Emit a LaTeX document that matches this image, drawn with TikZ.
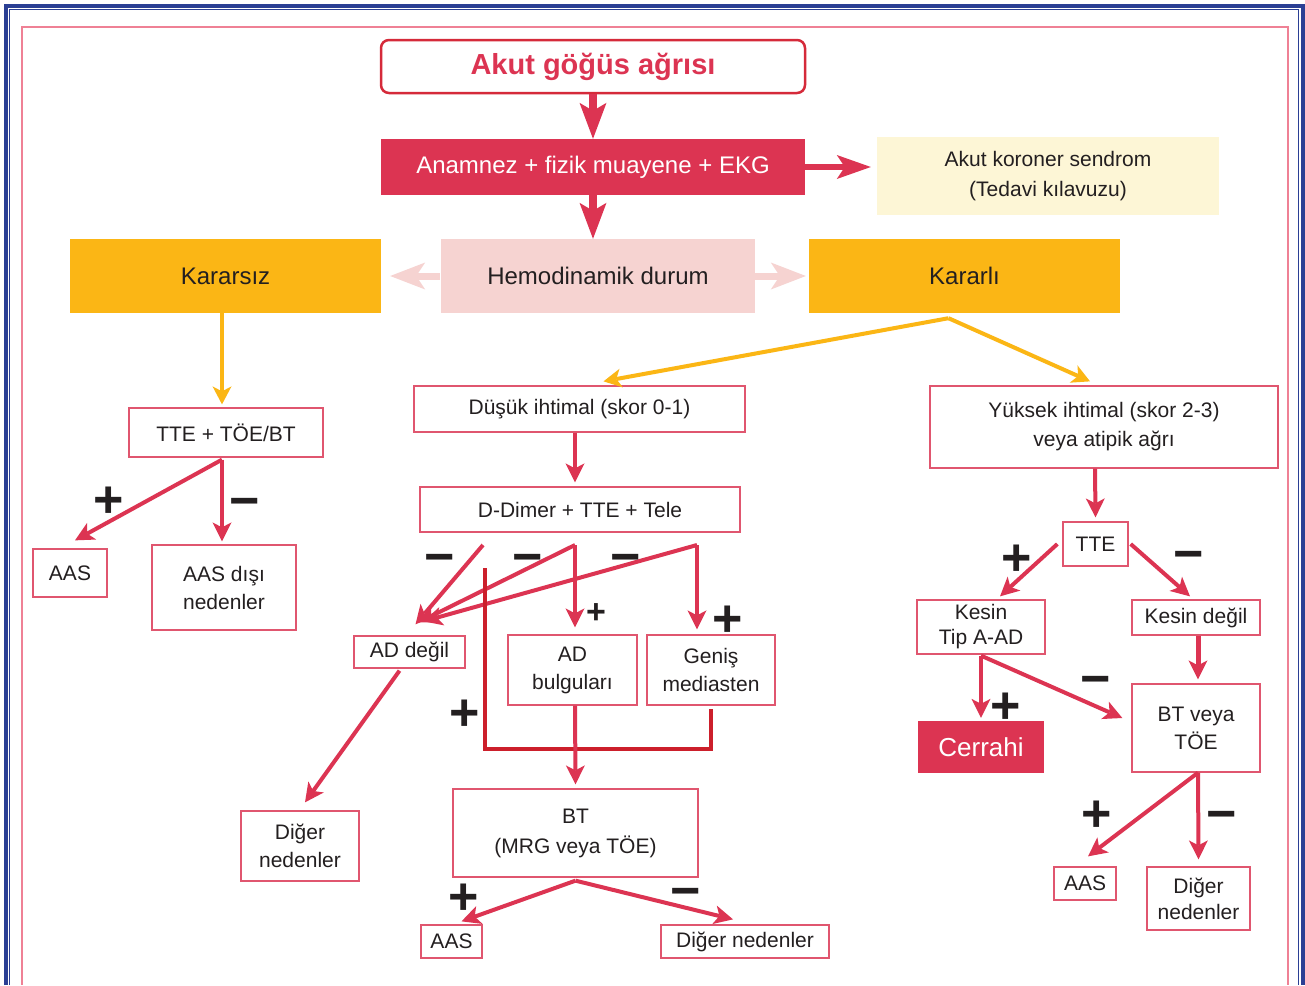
\documentclass[tikz,border=0pt]{standalone}
\usepackage{fontspec}
\setmainfont{Liberation Sans}
\usetikzlibrary{arrows.meta}
\usetikzlibrary{positioning}
\definecolor{crim}{HTML}{DC3452}
\definecolor{titlered}{HTML}{D52A3A}
\definecolor{edgepink}{HTML}{E0566F}
\definecolor{amber}{HTML}{FBB615}
\definecolor{blush}{HTML}{F6D3D1}
\definecolor{cream}{HTML}{FDF6D6}
\definecolor{ink}{HTML}{231F20}
\definecolor{navy}{HTML}{2B3F94}
\definecolor{framepink}{HTML}{EF8195}
\definecolor{maroon}{HTML}{CC1F2B}

\begin{document}
\begin{tikzpicture}[x=1pt, y=-1pt,
            box/.style = {draw=edgepink, line width=1.3pt, fill=white, align=center,
                text=ink, inner sep=2pt, font=\fontsize{21}{28}\selectfont},
            band/.style = {align=center, text=ink, inner sep=2pt,
                font=\fontsize{24}{28}\selectfont},
            wh/.style 2 args = {minimum width=#1pt, minimum height=#2pt},
            arr/.style = {crim, line width=4pt,
                -{Stealth[length=19pt,width=19pt,inset=5pt,line width=0pt]}},
            bigarr/.style = {crim, line width=8pt,
                -{Stealth[length=36pt,width=27pt,inset=8pt,line width=0pt]}},
            goldarr/.style = {amber, line width=4pt,
                -{Stealth[length=18pt,width=19pt,inset=5pt,line width=0pt]}},
            palearr/.style = {blush, line width=7pt,
                -{Stealth[length=35pt,width=27pt,inset=9pt,line width=0pt]}},
            sign/.style = {text=ink, inner sep=0pt, font=\fontsize{52}{52}\bfseries},
            minus/.style = {sign, yshift=-8pt}]
            \useasboundingbox[fill=white] (0,0) rectangle (1305,985);
            \draw[navy, line width=4pt] (5.5,985) |- (1303,5.5) -- (1303,985);
            \draw[navy, line width=1.2pt] (9.8,985) |- (1298.6,9.8) -- (1298.6,985);
            \draw[framepink, line width=1.3pt] (22,985) |- (1288,27) -- (1288,985);

            \node[box, draw=titlered, line width=2.5pt, rounded corners=8pt, wh={424}{53},
                text=crim, font=\fontsize{29}{32}\bfseries](start) at (593,66.5) {Akut göğüs ağrısı};
            \node[band, fill=crim, text=white, wh={424}{56}](exam) at (593,167) {Anamnez + fizik muayene + EKG};
            \node[band, fill=cream, wh={342}{78}, font=\fontsize{21}{30}\selectfont](acs) at (1048,176)
                {Akut koroner sendrom\\(Tedavi kılavuzu)};
            \node[band, fill=amber, wh={311}{74}](unstable) at (225.5,276) {Kararsız};
            \node[band, fill=blush, wh={314}{74}](hemo) at (598,276) {Hemodinamik durum};
            \node[band, fill=amber, wh={311}{74}](stable) at (964.5,276) {Kararlı};

            \node[box, wh={194}{49}](tteA) at (226,432.5) {TTE + TÖE/BT};
            \node[box, wh={74}{48}](aasA) at (70,573) {AAS};
            \node[box, wh={144}{85}](nonaas) at (224,587.5) {AAS dışı\\nedenler};

            \node[box, wh={331}{46}](low) at (579.5,409) {Düşük ihtimal (skor 0-1)};
            \node[box, wh={320}{45}](ddimer) at (580,509.5) {D-Dimer + TTE + Tele};
            \node[box, wh={111}{32}](adno) at (409.5,652) {AD değil};
            \node[box, wh={129}{70}](adyes) at (572.5,670) {AD\\bulguları};
            \node[box, wh={128}{70}](wide) at (711,670) {Geniş\\mediasten};
            \node[box, wh={118}{70}](otherA) at (300,846) {Diğer\\nedenler};
            \node[box, wh={245}{88}, font=\fontsize{21}{30}\selectfont](ct) at (575.5,833) {BT\\(MRG veya TÖE)};
            \node[box, wh={61}{33}](aasB) at (451.5,941.5) {AAS};
            \node[box, wh={168}{33}](otherB) at (745,941.5) {Diğer nedenler};

            \node[box, wh={348}{82}, font=\fontsize{21}{29}\selectfont](high) at (1104,427)
                {Yüksek ihtimal (skor 2-3)\\veya atipik ağrı};
            \node[box, wh={65}{44}](tteB) at (1095.5,544) {TTE};
            \node[box, wh={128}{54}, font=\fontsize{21}{25}\selectfont](typeA) at (981,627) {Kesin\\Tip A-AD};
            \node[box, wh={128}{35}](unsure) at (1196,617.5) {Kesin değil};
            \node[box, wh={128}{88}](ctB) at (1196,728) {BT veya\\TÖE};
            \node[band, fill=crim, text=white, wh={126}{52}, font=\fontsize{26}{28}\selectfont](surgery) at (981,747) {Cerrahi};
            \node[box, wh={62}{33}](aasC) at (1085,883.5) {AAS};
            \node[box, wh={103}{63}, font=\fontsize{21}{26}\selectfont](otherC) at (1198.5,898.5) {Diğer\\nedenler};

            \draw[bigarr] (start.south) -- (exam.north);
            \draw[bigarr] (exam.south) -- (hemo.north -| exam.south);
            \draw[crim, line width=6pt, -{Stealth[length=34pt,width=24pt,inset=8pt,line width=0pt]}, shorten >=6pt]
                (exam.east) -- (exam.east -| acs.west);
            \draw[palearr, shorten <=1pt, shorten >=9pt] (hemo.west) -- (unstable.east);
            \draw[palearr, shorten >=3pt] (hemo.east) -- (stable.west);

            \draw[goldarr, shorten >=3pt] ([xshift=-3.5pt]unstable.south) -- ([xshift=-4pt]tteA.north);
            \coordinate (fork) at ([xshift=-16pt,yshift=-5pt]stable.south);
            \draw[goldarr] (fork) -- ([xshift=24pt,yshift=4pt]low.north);
            \draw[goldarr] (fork) -- ([xshift=-14pt,yshift=4pt]high.north);

            \coordinate (tA) at ([xshift=-4pt,yshift=-2pt]tteA.south);
            \draw[arr] (tA) -- ([xshift=5pt,yshift=8pt]aasA.north);
            \draw[arr] (tA) -- ([xshift=-2pt,yshift=3pt]nonaas.north);

            \draw[arr] ([xshift=-4.5pt]low.south) -- ([xshift=-5pt,yshift=4pt]ddimer.north);
            \coordinate (d1) at (483,545);
            \coordinate (d2) at (575,545);
            \coordinate (d3) at (697,545);
            \draw[arr] (d1) -- ([xshift=6pt,yshift=11pt]adno.north);
            \draw[arr] (d2) -- ([xshift=9pt,yshift=13pt]adno.north);
            \draw[arr] (d3) -- ([xshift=14pt,yshift=14pt]adno.north);
            \draw[arr] (d2) -- ([xshift=2.5pt,yshift=7pt]adyes.north);
            \draw[arr] (d3) -- ([xshift=-14pt,yshift=5pt]wide.north);
            \coordinate (leg) at (485,568);
            \draw[maroon, line width=4pt] (leg) |- ([yshift=-43pt]wide.south) -- ([yshift=-3pt]wide.south);
            \draw[arr] ([xshift=2.5pt]adyes.south) -- ([yshift=4pt]ct.north);
            \draw[arr] ([xshift=-10pt,yshift=-2pt]adno.south) -- ([xshift=5pt,yshift=8pt]otherA.north);
            \coordinate (c1) at ([yshift=-3pt]ct.south);
            \draw[arr] (c1) -- ([xshift=10pt,yshift=3pt]aasB.north);
            \draw[arr] (c1) -- ([xshift=-12pt,yshift=5pt]otherB.north);

            \draw[arr] ([xshift=-9pt]high.south) -- ([yshift=4pt]tteB.north);
            \draw[arr] ([xshift=-5pt]tteB.west) -- ([xshift=19pt,yshift=3pt]typeA.north);
            \draw[arr] ([xshift=2pt]tteB.east) -- ([xshift=-6pt,yshift=3pt]unsure.north);
            \draw[arr, line width=5pt] ([xshift=2pt]unsure.south) -- ([xshift=2pt,yshift=4pt]ctB.north);
            \coordinate (k1) at ([yshift=-1pt]typeA.south);
            \draw[arr] (k1) -- ([yshift=3pt]surgery.north);
            \draw[arr] (k1) -- ([xshift=-9pt,yshift=10pt]ctB.west);
            \coordinate (b1) at ([xshift=2pt]ctB.south);
            \draw[arr] (b1) -- ([xshift=3pt,yshift=10pt]aasC.north);
            \draw[arr] (b1) -- ([yshift=7pt]otherC.north);

            \node[sign](p1) at (109,502) {+};
            \node[minus](m1) at (245,500) {−};
            \node[minus](m2) at (440,556) {−};
            \node[minus](m3) at (528,556) {−};
            \node[minus](m4) at (626,556) {−};
            \node[sign, font=\fontsize{34}{34}\bfseries](p2) at (596,614) {+};
            \node[sign](p3) at (728,621) {+};
            \node[sign](p4) at (465,715) {+};
            \node[sign](p5) at (464,899) {+};
            \node[minus](m5) at (686,890) {−};
            \node[sign](p6) at (1017,560) {+};
            \node[minus](m6) at (1189,553) {−};
            \node[minus](m7) at (1096,678) {−};
            \node[sign](p7) at (1006,708) {+};
            \node[sign](p8) at (1097,816) {+};
            \node[minus](m8) at (1222,813) {−};
        \end{tikzpicture}
\end{document}
